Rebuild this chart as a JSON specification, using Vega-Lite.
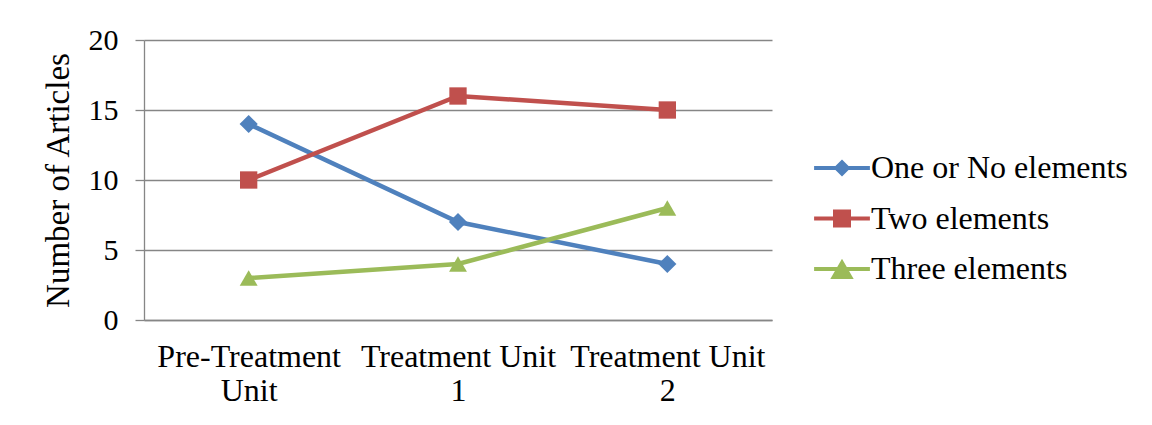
{
  "$schema": "https://vega.github.io/schema/vega-lite/v6.json",
  "width": 628,
  "height": 280,
  "autosize": "none",
  "padding": {"left": 144, "top": 40, "right": 380, "bottom": 105},
  "background": "white",
  "config": {"font": "Liberation Serif", "view": {"stroke": null}},
  "data": {
    "values": [
      {"unit": "Pre-Treatment Unit", "series": "One or No elements", "articles": 14},
      {"unit": "Treatment Unit 1", "series": "One or No elements", "articles": 7},
      {"unit": "Treatment Unit 2", "series": "One or No elements", "articles": 4},
      {"unit": "Pre-Treatment Unit", "series": "Two elements", "articles": 10},
      {"unit": "Treatment Unit 1", "series": "Two elements", "articles": 16},
      {"unit": "Treatment Unit 2", "series": "Two elements", "articles": 15},
      {"unit": "Pre-Treatment Unit", "series": "Three elements", "articles": 3},
      {"unit": "Treatment Unit 1", "series": "Three elements", "articles": 4},
      {"unit": "Treatment Unit 2", "series": "Three elements", "articles": 8}
    ]
  },
  "encoding": {
    "x": {
      "field": "unit",
      "type": "nominal",
      "sort": ["Pre-Treatment Unit", "Treatment Unit 1", "Treatment Unit 2"],
      "scale": {"type": "point", "padding": 0.5},
      "axis": {
        "title": null,
        "labelAngle": 0,
        "ticks": false,
        "domain": true,
        "domainColor": "#868686",
        "domainWidth": 1.3,
        "grid": false,
        "labelFont": "Liberation Serif",
        "labelFontSize": 32,
        "labelColor": "black",
        "labelPadding": 21,
        "labelLineHeight": 34,
        "labelLimit": 0,
        "labelOverlap": false,
        "labelExpr": "datum.label == 'Pre-Treatment Unit' ? ['Pre-Treatment', 'Unit'] : ['Treatment Unit', slice(datum.label, 15)]"
      }
    },
    "y": {
      "field": "articles",
      "type": "quantitative",
      "scale": {"domain": [0, 20]},
      "axis": {
        "title": "Number of Articles",
        "values": [0, 5, 10, 15, 20],
        "grid": true,
        "gridColor": "#868686",
        "gridWidth": 1.3,
        "domainColor": "#868686",
        "domainWidth": 1.3,
        "tickColor": "#868686",
        "tickWidth": 1.3,
        "tickSize": 9,
        "labelFont": "Liberation Serif",
        "labelFontSize": 30,
        "labelColor": "black",
        "labelPadding": 17,
        "titleFont": "Liberation Serif",
        "titleFontSize": 33,
        "titleFontWeight": "normal",
        "titleColor": "black",
        "titlePadding": 13
      }
    },
    "color": {
      "field": "series",
      "type": "nominal",
      "scale": {
        "domain": ["One or No elements", "Two elements", "Three elements"],
        "range": ["#4F81BD", "#C0504D", "#9BBB59"]
      },
      "legend": {
        "title": null,
        "orient": "none",
        "legendX": 682,
        "legendY": 112,
        "padding": 0,
        "symbolSize": 324,
        "symbolStrokeWidth": 0,
        "symbolOpacity": 1,
        "rowPadding": 18.5,
        "labelOffset": 13,
        "labelFont": "Liberation Serif",
        "labelFontSize": 32,
        "labelColor": "black",
        "labelLimit": 0
      }
    }
  },
  "layer": [
    {"mark": {"type": "line", "strokeWidth": 4.5}},
    {
      "transform": [{"filter": "datum.series === 'One or No elements'"}],
      "mark": {"type": "point", "shape": "diamond", "filled": true, "opacity": 1, "size": 330}
    },
    {
      "transform": [{"filter": "datum.series === 'Two elements'"}],
      "mark": {"type": "point", "shape": "square", "filled": true, "opacity": 1, "size": 300}
    },
    {
      "transform": [{"filter": "datum.series === 'Three elements'"}],
      "mark": {"type": "point", "shape": "triangle-up", "filled": true, "opacity": 1, "size": 320}
    },
    {
      "mark": {"type": "point", "filled": true, "opacity": 0},
      "encoding": {
        "shape": {
          "field": "series",
          "type": "nominal",
          "scale": {
            "domain": ["One or No elements", "Two elements", "Three elements"],
            "range": [
              "M-3.1,-0.22L3.1,-0.22L3.1,0.22L-3.1,0.22Z M0,-0.95L0.95,0L0,0.95L-0.95,0Z",
              "M-3.1,-0.22L3.1,-0.22L3.1,0.22L-3.1,0.22Z M-1,-1L1,-1L1,1L-1,1Z",
              "M-3.1,-0.22L3.1,-0.22L3.1,0.22L-3.1,0.22Z M0,-1.15L1.3,1.1L-1.3,1.1Z"
            ]
          },
          "legend": {
            "title": null,
            "orient": "none",
            "legendX": 682,
            "legendY": 112,
            "padding": 0,
            "symbolSize": 324,
            "symbolStrokeWidth": 0,
            "symbolOpacity": 1,
            "rowPadding": 18.5,
            "labelOffset": 13,
            "labelFont": "Liberation Serif",
            "labelFontSize": 32,
            "labelColor": "black",
            "labelLimit": 0
          }
        }
      }
    }
  ]
}
